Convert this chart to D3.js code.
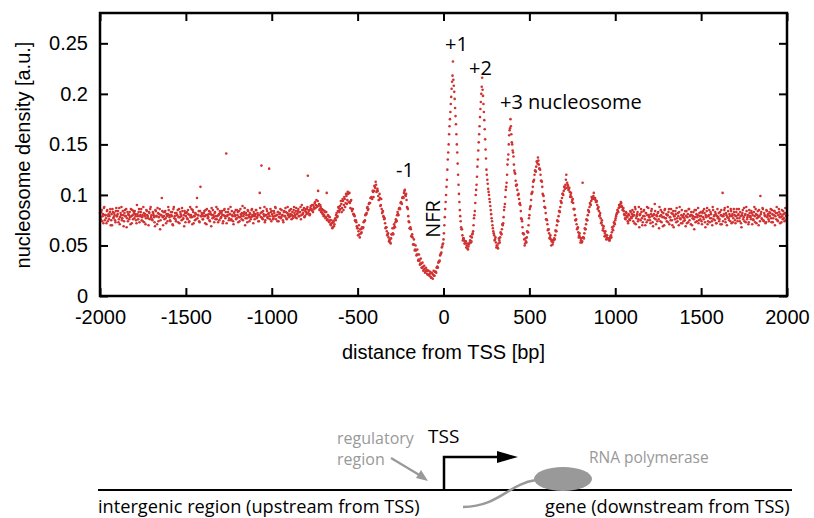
<!DOCTYPE html>
<html>
<head>
<meta charset="utf-8">
<script src="https://cdn.jsdelivr.net/npm/d3@7"></script>
<style>
  body { margin: 0; background: #fff; }
  .sans { font-family: "Liberation Sans", Arial, sans-serif; }
  .myr { font-family: "Open Sans", "Noto Sans", sans-serif; }
</style>
</head>
<body>
<div id="vis"></div>
<script>
// nucleosome density around the TSS (density x 1000)
// first pass: one value every 5 bp starting at -2000

// -2000 .. -805 bp
const upstream = [
  82,76,85,79,72,88,80,77,84,74,81,79,86,75,70,83,78,80,73,87,
  79,84,76,71,82,88,77,80,74,85,79,68,83,81,76,78,86,72,80,84,
  77,81,75,90,79,83,73,80,86,78,74,82,79,71,85,80,77,83,76,88,
  80,75,82,78,69,84,79,87,74,81,66,80,97,78,83,76,84,72,79,81,
  85,78,74,80,83,70,88,79,76,82,80,73,86,78,81,75,84,77,69,82,
  79,83,76,81,74,88,80,78,85,72,79,82,76,97,80,84,73,108,79,81,
  76,82,79,85,71,80,78,84,74,81,87,77,80,73,83,79,76,86,80,75,
  82,78,84,72,80,86,77,141,79,83,75,81,88,76,80,74,82,79,85,77,
  80,73,84,78,81,76,89,79,83,70,82,77,85,80,74,81,78,86,79,83,
  76,81,85,78,80,74,102,82,129,77,84,79,73,80,86,78,81,126,76,83,
  84,79,77,82,88,76,80,83,74,81,86,78,80,75,83,79,87,77,82,80,
  78,85,81,76,83,79,88,80,84,77,82,86,79,83,76,90,81,85,78,84
];

// -800 .. 1095 bp (nucleosome ladder)
const promoter = [
  83,86,119,84,80,87,85,90,83,88,92,87,95,89,104,91,86,88,84,82,
  85,80,83,78,102,76,79,73,75,70,72,68,74,71,77,80,78,84,87,85,
  86,91,87,94,90,96,92,99,95,101,93,92,94,86,86,81,80,75,75,69,
  67,64,61,66,62,68,67,73,74,80,81,87,85,91,92,97,98,96,103,104,
  108,113,103,106,99,95,97,90,86,83,79,76,72,68,64,61,58,55,53,57,
  61,62,67,69,73,75,80,81,86,87,92,92,97,98,102,105,99,95,87,79,
  73,67,66,59,58,51,51,46,45,41,41,36,35,32,32,28,29,26,27,24,
  25,22,25,21,22,19,18,22,21,20,24,24,28,29,33,34,40,42,48,51,
  56,70,86,100,115,135,150,168,182,197,212,232,208,195,178,160,142,120,101,85,
  74,66,60,57,55,52,54,50,47,49,52,55,53,58,62,70,80,92,105,118,
  135,152,168,185,200,216,198,182,165,145,125,115,106,100,93,85,77,70,64,60,
  56,53,50,48,52,55,58,62,66,70,78,88,98,108,120,135,150,164,175,160,
  150,142,130,122,114,110,105,100,96,92,84,76,68,62,56,52,54,58,63,70,
  80,88,95,102,108,114,120,124,128,133,137,130,126,120,114,108,100,94,88,82,
  76,71,66,62,58,56,54,51,55,57,60,64,70,74,79,84,88,93,97,101,
  104,108,110,120,112,109,106,103,100,98,95,92,86,80,75,71,67,63,60,58,
  55,53,112,58,62,66,71,75,80,84,88,91,94,96,98,102,97,95,93,90,
  87,84,80,77,73,70,67,64,62,60,58,57,56,55,57,60,63,66,69,72,
  75,79,82,84,87,89,91,92,88,86,84,80,76,82,78,72,80,75,83,77
];

// 1100 .. 2000 bp
const downstream = [
  85,74,80,88,71,79,83,76,68,81,86,77,73,84,79,70,82,88,75,80,
  78,72,84,79,69,81,91,76,80,74,83,67,79,85,73,78,82,70,86,77,
  74,80,83,71,78,86,75,81,68,79,84,73,77,82,70,88,76,80,72,79,
  81,75,69,84,78,73,86,79,71,80,77,83,66,78,85,74,80,72,82,76,
  79,71,84,76,82,68,78,87,74,80,73,83,77,70,85,79,75,81,72,86,
  78,74,83,80,71,102,79,85,76,82,70,88,77,81,74,84,79,73,86,80,
  72,83,77,80,86,74,79,68,82,76,87,80,73,84,78,71,85,79,76,82,
  80,75,88,73,81,77,84,70,79,99,83,76,86,74,80,72,85,78,81,74,
  79,86,73,81,77,84,70,82,88,75,80,83,72,78,85,76,81,74,87,79,
  80
];

// second pass: values in between, every 5 bp starting at -1997.5
const upstreamMid = [
  78,83,74,81,87,75,80,72,85,79,76,83,70,81,86,77,82,75,84,79,
  81,73,87,78,80,75,84,69,82,79,86,77,74,80,83,71,79,85,76,82,
  84,79,72,81,76,86,79,83,75,80,88,73,81,77,84,79,70,82,86,78,
  76,83,80,73,85,79,71,82,78,86,75,80,84,70,79,83,77,81,74,88,
  80,75,83,79,71,86,77,82,74,80,85,78,72,83,79,87,76,80,84,73,
  82,77,85,73,80,78,86,71,83,79,75,81,88,77,80,74,84,79,82,76,
  79,84,72,80,86,77,81,75,83,69,80,85,78,82,76,88,79,73,81,84,
  77,82,80,74,85,79,83,72,80,86,77,81,75,84,79,71,83,80,76,85,
  83,78,74,86,79,82,75,81,87,77,80,73,84,78,82,76,85,80,72,81,
  79,85,77,82,74,80,87,78,83,76,81,88,75,80,84,77,82,79,86,74,
  81,76,84,79,87,80,74,83,78,82,77,85,80,73,84,79,83,76,88,81,
  84,79,86,80,77,85,82,78,87,81,84,79,83,88,80,85,82,87,79,86
];

const promoterMid = [
  81,88,82,85,81,89,86,84,90,86,93,90,88,94,89,85,90,83,86,81,
  79,84,77,83,75,80,74,78,71,75,67,73,69,76,75,82,79,88,83,89,
  94,83,96,85,98,88,101,91,103,93,102,87,95,84,86,81,79,74,73,67,
  60,70,58,66,63,67,68,74,75,81,82,88,86,92,92,97,97,104,98,109,
  107,110,104,104,95,101,89,96,82,84,78,77,67,68,60,62,54,56,52,61,
  67,61,71,68,76,74,83,80,87,86,93,91,98,97,104,100,101,88,86,74,
  67,68,59,61,51,56,45,50,40,46,35,41,31,37,28,33,25,30,23,28,
  26,21,25,20,24,18,23,17,25,20,24,23,29,28,34,35,41,43,49,52,
  62,78,93,108,125,142,160,175,190,205,218,214,202,186,170,150,131,110,93,79,
  68,66,55,57,52,54,48,52,46,51,53,59,54,61,64,77,84,100,110,128,
  144,160,177,192,207,204,190,174,155,136,120,111,103,96,89,81,74,67,62,55,
  58,48,50,47,57,53,63,61,71,72,85,91,105,112,130,140,159,166,168,152,
  144,138,124,121,109,110,100,101,91,90,77,74,62,61,50,57,53,64,63,77,
  86,89,101,103,113,115,124,123,133,131,134,126,125,114,113,101,99,88,87,76,
  75,65,66,57,60,50,55,53,56,56,65,64,75,74,84,83,94,92,101,100,
  108,106,115,107,110,105,107,98,102,93,96,86,86,75,76,66,68,58,62,53,
  57,54,58,57,67,66,76,75,85,83,92,90,98,96,99,96,97,93,94,86,
  88,79,82,72,75,65,69,59,64,56,60,57,57,55,59,58,68,65,73,71,
  77,81,85,83,90,88,93,89,85,87,81,77,83,79,74,81,76,84,78,81
];

const downstreamMid = [
  79,83,72,86,77,81,74,88,80,75,83,70,79,85,76,82,73,80,87,78,
  75,81,86,73,80,77,84,71,79,82,76,88,74,80,83,69,78,85,77,81,
  80,73,86,78,75,82,70,84,79,76,81,87,74,79,83,77,72,85,78,74,
  77,84,79,72,81,86,75,80,83,70,79,76,85,73,81,78,87,75,79,83,
  74,82,78,86,73,80,84,71,79,85,77,81,74,88,76,80,83,72,79,77,
  82,76,71,85,79,74,81,87,73,80,78,84,75,79,86,72,81,77,83,75,
  79,86,74,81,77,83,72,80,85,78,74,81,88,76,80,73,82,78,84,71,
  76,83,79,86,72,80,78,85,74,81,77,87,75,82,79,73,84,80,76,83,
  82,77,85,73,80,84,79,76,82,74,86,78,81,73,79,84,77,82,75,80
];

const xTicks = [-2000, -1500, -1000, -500, 0, 500, 1000, 1500, 2000];
const yTicks = [0, 0.05, 0.1, 0.15, 0.2, 0.25];

const FRAME_WIDTH = 814;
const FRAME_HEIGHT = 518;
const PLOT = {left: 100, right: 787, top: 13, bottom: 296};

const firstPass = upstream.concat(promoter, downstream)
  .map((v, i) => ({bp: -2000 + 5 * i, y: v / 1000}));
const secondPass = upstreamMid.concat(promoterMid, downstreamMid)
  .map((v, i) => ({bp: -1997.5 + 5 * i, y: v / 1000}));
const data = firstPass.concat(secondPass);

const svg = d3.select('#vis')
  .append('svg')
    .attr('width', FRAME_WIDTH)
    .attr('height', FRAME_HEIGHT);

const X_SCALE = d3.scaleLinear().domain([-2000, 2000]).range([PLOT.left, PLOT.right]);
const Y_SCALE = d3.scaleLinear().domain([0, 0.28]).range([PLOT.bottom, PLOT.top]);

// points
svg.append('g')
  .selectAll('circle')
  .data(data)
  .enter().append('circle')
    .attr('cx', d => X_SCALE(d.bp))
    .attr('cy', d => Y_SCALE(d.y))
    .attr('r', 1.3)
    .attr('fill', '#d03232');

// axes, ticks pointing inward on all four sides
function styleAxis(g) {
  g.select('.domain').remove();
  g.selectAll('.tick line').attr('stroke', '#000').attr('stroke-width', 2);
  g.selectAll('.tick text')
    .attr('font-family', '"Liberation Sans", Arial, sans-serif')
    .attr('font-size', 20)
    .attr('fill', '#000');
}

svg.append('g')
  .attr('transform', 'translate(0,' + PLOT.bottom + ')')
  .call(d3.axisBottom(X_SCALE).tickValues(xTicks).tickSizeInner(-8).tickSizeOuter(0).tickPadding(14)
    .tickFormat(d => String(d)))
  .call(styleAxis);

svg.append('g')
  .attr('transform', 'translate(0,' + PLOT.top + ')')
  .call(d3.axisTop(X_SCALE).tickValues(xTicks).tickSizeInner(-8).tickSizeOuter(0).tickFormat(''))
  .call(styleAxis);

svg.append('g')
  .attr('transform', 'translate(' + PLOT.left + ',0)')
  .call(d3.axisLeft(Y_SCALE).tickValues(yTicks).tickSizeInner(-8).tickSizeOuter(0).tickPadding(12)
    .tickFormat(d => String(d)))
  .call(styleAxis);

svg.append('g')
  .attr('transform', 'translate(' + PLOT.right + ',0)')
  .call(d3.axisRight(Y_SCALE).tickValues(yTicks).tickSizeInner(-8).tickSizeOuter(0).tickFormat(''))
  .call(styleAxis);

svg.append('rect')
  .attr('x', PLOT.left)
  .attr('y', PLOT.top)
  .attr('width', PLOT.right - PLOT.left)
  .attr('height', PLOT.bottom - PLOT.top)
  .attr('fill', 'none')
  .attr('stroke', '#000')
  .attr('stroke-width', 2.5);

// axis titles
svg.append('text')
  .attr('class', 'sans')
  .attr('x', (PLOT.left + PLOT.right) / 2)
  .attr('y', 359)
  .attr('text-anchor', 'middle')
  .attr('font-size', 20)
  .text('distance from TSS [bp]');

svg.append('text')
  .attr('class', 'sans')
  .attr('transform', 'translate(30,155) rotate(-90)')
  .attr('text-anchor', 'middle')
  .attr('font-size', 20)
  .text('nucleosome density [a.u.]');

// peak labels
const labels = [
  {t: '+1', x: 445, y: 51},
  {t: '+2', x: 469, y: 75},
  {t: '+3 nucleosome', x: 500, y: 109},
  {t: '-1', x: 396, y: 177}
];
svg.selectAll('.lab')
  .data(labels)
  .enter().append('text')
    .attr('class', 'lab myr')
    .attr('x', d => d.x)
    .attr('y', d => d.y)
    .attr('font-size', 20)
    .text(d => d.t);

svg.append('text')
  .attr('class', 'myr')
  .attr('transform', 'translate(440,219) rotate(-90)')
  .attr('text-anchor', 'middle')
  .attr('font-size', 20)
  .text('NFR');

// gene sketch below the chart
const sketch = svg.append('g');

sketch.append('line')
  .attr('x1', 98).attr('x2', 792)
  .attr('y1', 490).attr('y2', 490)
  .attr('stroke', '#000').attr('stroke-width', 2.2);

sketch.append('path')
  .attr('d', 'M444,490 V457 H499')
  .attr('fill', 'none')
  .attr('stroke', '#000')
  .attr('stroke-width', 2.5);
sketch.append('path')
  .attr('d', 'M497,451 L518,457 L497,463 Z')
  .attr('fill', '#000');

sketch.append('text')
  .attr('class', 'myr')
  .attr('x', 428).attr('y', 443)
  .attr('font-size', 19)
  .text('TSS');

const grey = '#999';
sketch.append('text')
  .attr('class', 'myr')
  .attr('fill', grey)
  .attr('font-size', 16)
  .selectAll('tspan')
  .data(['regulatory', 'region'])
  .enter().append('tspan')
    .attr('x', 337)
    .attr('y', (d, i) => 444 + i * 21)
    .text(d => d);

sketch.append('line')
  .attr('x1', 391).attr('y1', 458)
  .attr('x2', 421).attr('y2', 476)
  .attr('stroke', grey).attr('stroke-width', 2.2);
sketch.append('path')
  .attr('d', 'M428,481 L416,478 L421,470 Z')
  .attr('fill', grey);

sketch.append('path')
  .attr('d', 'M463,507 C500,506 508,484 536,480')
  .attr('fill', 'none')
  .attr('stroke', grey)
  .attr('stroke-width', 2.5);

sketch.append('ellipse')
  .attr('cx', 563).attr('cy', 479)
  .attr('rx', 29).attr('ry', 12)
  .attr('fill', grey);

sketch.append('text')
  .attr('class', 'myr')
  .attr('x', 589).attr('y', 463)
  .attr('fill', grey)
  .attr('font-size', 15.5)
  .text('RNA polymerase');

sketch.append('text')
  .attr('class', 'myr')
  .attr('x', 98).attr('y', 513)
  .attr('font-size', 18.2)
  .text('intergenic region (upstream from TSS)');

sketch.append('text')
  .attr('class', 'myr')
  .attr('x', 545).attr('y', 513)
  .attr('font-size', 18.2)
  .text('gene (downstream from TSS)');
</script>
</body>
</html>
